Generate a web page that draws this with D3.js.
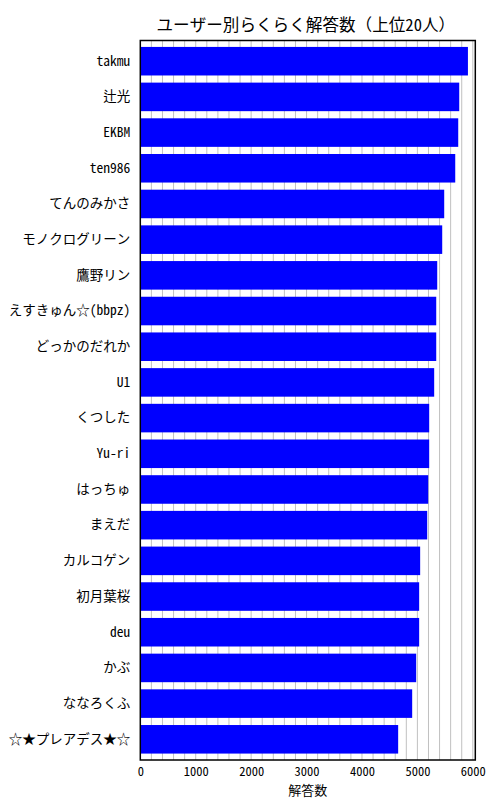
<!DOCTYPE html>
<html><head><meta charset="utf-8">
<script src="https://cdn.jsdelivr.net/npm/d3@7"></script>
<style>body{margin:0;background:#fff;}svg{display:block;font-family:"Noto Sans Mono CJK JP","Noto Sans CJK JP","DejaVu Sans",sans-serif;}</style>
</head><body>
<svg id="c" width="500" height="800"></svg>
<script>
const users = ["takmu","辻光","EKBM","ten986","てんのみかさ","モノクログリーン","鷹野リン","えすきゅん☆(bbpz)","どっかのだれか","U1","くつした","Yu-ri","はっちゅ","まえだ","カルコゲン","初月葉桜","deu","かぶ","ななろくふ","☆★プレアデス★☆"];
const counts = [5912,5755,5737,5683,5484,5448,5358,5340,5340,5303,5213,5213,5195,5177,5050,5032,5032,4978,4906,4653];
const xTicks = [0,1000,2000,3000,4000,5000,6000];
const title = "ユーザー別らくらく解答数（上位20人）";
const xLabel = "解答数";

const FONT = '"Noto Sans Mono CJK JP","Noto Sans CJK JP",sans-serif';
const svg = d3.select("#c");
const L = 140.3, R = 475.3, T = 40.5, B = 760;
const x = d3.scaleLinear().domain([0, 6045]).range([L, R]);
const y = d3.scaleBand().domain(users).range([T, B]).paddingInner(0.2).paddingOuter(0.18);

// grid
svg.append("g").selectAll("line").data(d3.range(200, 6001, 200)).join("line")
  .attr("x1", d => x(d)).attr("x2", d => x(d)).attr("y1", T).attr("y2", B)
  .attr("stroke", "#c0c0c0").attr("stroke-width", 1);

// bars
svg.append("g").selectAll("rect").data(users).join("rect")
  .attr("x", x(0)).attr("y", d => y(d))
  .attr("width", (d, i) => x(counts[i]) - x(0)).attr("height", y.bandwidth())
  .attr("fill", "#0000ff");

// frame
svg.append("rect").attr("x", L).attr("y", T).attr("width", R - L).attr("height", B - T)
  .attr("fill", "none").attr("stroke", "#000").attr("stroke-width", 1.5);

// y labels
const ya = d3.axisLeft(y).tickSize(0).tickPadding(10);
const gy = svg.append("g").attr("transform", `translate(${L},0)`).call(ya);
gy.select(".domain").remove();
gy.selectAll("text").attr("font-size", 13.5).attr("fill", "#000").attr("font-family", FONT);

// x axis
const xa = d3.axisBottom(x).tickValues(xTicks).tickSize(0).tickPadding(7).tickFormat(d3.format("d"));
const gx = svg.append("g").attr("transform", `translate(0,${B})`).call(xa);
gx.select(".domain").remove();
gx.selectAll("text").attr("font-size", 12.5).attr("fill", "#000").attr("font-family", FONT);

svg.append("text").attr("x", (L + R) / 2).attr("y", 795).attr("text-anchor", "middle")
  .attr("font-size", 13).attr("font-family", FONT).text(xLabel);
svg.append("text").attr("x", (L + R) / 2 - 2).attr("y", 31).attr("text-anchor", "middle")
  .attr("font-size", 16.6).attr("font-family", FONT).text(title);
</script>
</body></html>
